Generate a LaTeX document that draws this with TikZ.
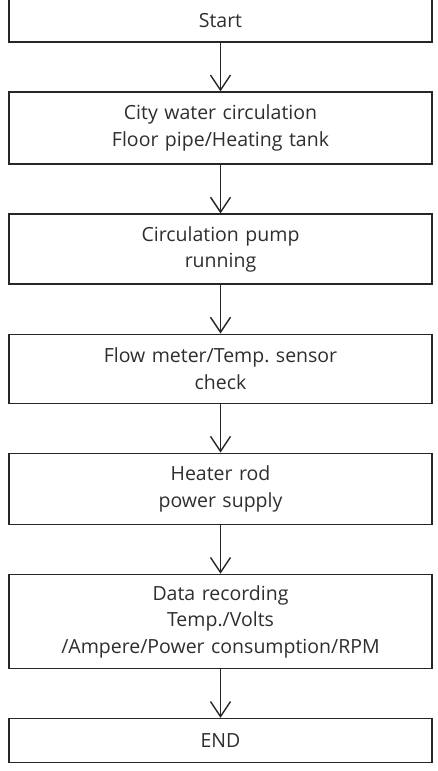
\documentclass[tikz,border=0pt]{standalone}
\usepackage{fontspec}
\setmainfont{Open Sans}
\usetikzlibrary{positioning,arrows.meta}
\definecolor{boxline}{gray}{0.15}
\definecolor{boxtext}{gray}{0.18}
\frenchspacing

\begin{document}
\begin{tikzpicture}[
    stepbox/.style={draw=boxline, line width=1.6pt, minimum width=423pt,
      text width=415pt, align=center, inner sep=0pt, text=boxtext,
      font=\fontsize{19.5}{26.5}\selectfont},
    flow/.style={draw=boxline, line width=1.4pt,
      -{Straight Barb[length=15pt,width=20pt,line width=1.4pt]}},
    node distance=48.5pt
  ]
  \useasboundingbox (0,0) rectangle (437pt,-771pt);

  % process steps, top to bottom
  \node[stepbox, minimum height=43pt] (start) at (220.5pt,-20.5pt) {Start};
  \node[stepbox, minimum height=72pt, below=of start] (city)
    {City water circulation\\Floor pipe/Heating tank};
  \node[stepbox, minimum height=70pt, below=of city] (pump)
    {Circulation pump\\running};
  \node[stepbox, minimum height=69pt, below=of pump] (sensor)
    {Flow meter/Temp. sensor\\check};
  \node[stepbox, minimum height=71pt, below=of sensor] (heater)
    {Heater rod\\power supply};
  \node[stepbox, minimum height=94pt, below=of heater] (record)
    {Data recording\\Temp./Volts\\/Ampere/Power consumption/RPM};
  \node[stepbox, minimum height=44pt, below=of record] (end) {END};

  % arrows between steps
  \foreach \a/\b in {start/city, city/pump, pump/sensor, sensor/heater,
      heater/record, record/end}
    \draw[flow] (\a) -- (\b);
\end{tikzpicture}
\end{document}
